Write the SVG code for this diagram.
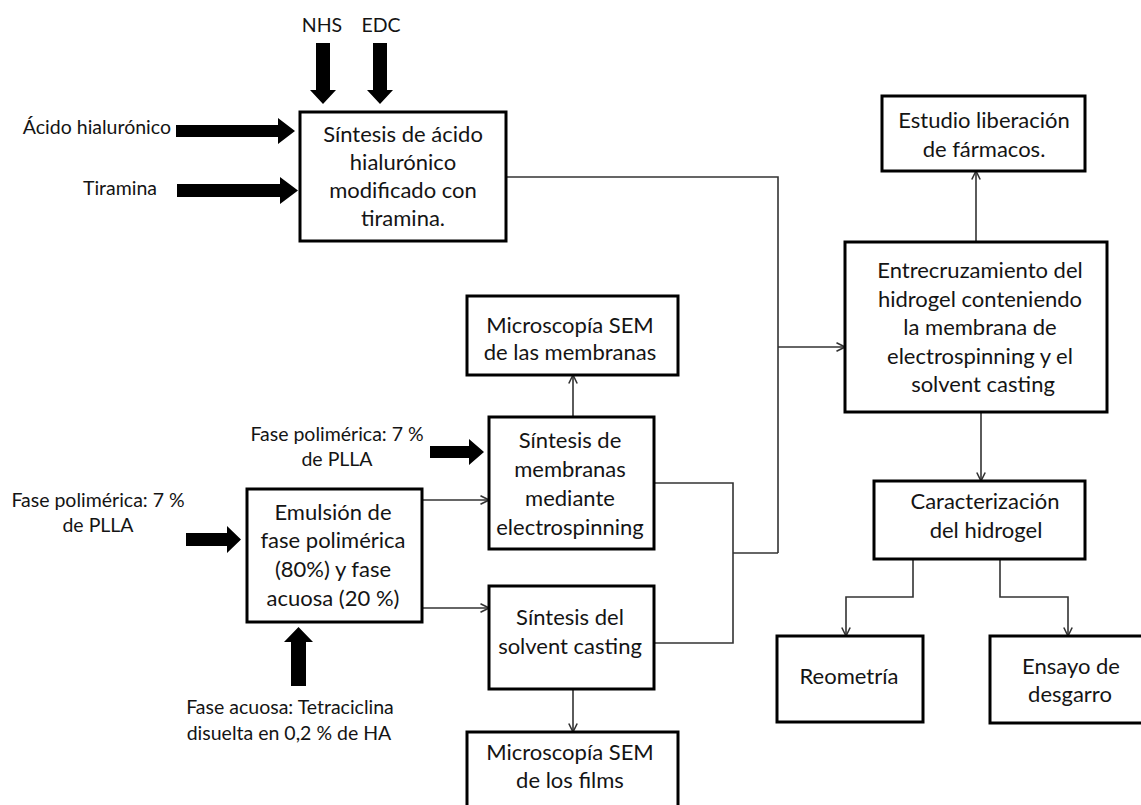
<svg xmlns="http://www.w3.org/2000/svg" width="1141" height="805" viewBox="0 0 1141 805">
  <style>
    .box { fill: #ffffff; stroke: #000000; stroke-width: 3; }
    .t { font-family: Lato, "Liberation Sans", sans-serif; font-size: 22px; fill: #141414; text-anchor: middle; }
    .s { font-family: Lato, "Liberation Sans", sans-serif; font-size: 19.5px; fill: #141414; }
    .link { fill: none; stroke: #333333; stroke-width: 1.6; }
    .block { fill: #000000; }
  </style>
  <defs>
    <marker id="open" viewBox="0 0 10 10" refX="9.5" refY="5" markerWidth="10" markerHeight="10" markerUnits="userSpaceOnUse" orient="auto">
      <path d="M1,0.8 L9.5,5 L1,9.2" fill="none" stroke="#333333" stroke-width="1.6"/>
    </marker>
  </defs>

  <!-- heavy input arrows and their labels -->
  <g id="inputs">
    <text class="s" x="322" y="32" text-anchor="middle">NHS</text>
    <text class="s" x="381" y="32" text-anchor="middle">EDC</text>
    <polygon class="block" points="316,43 330,43 330,90 336,90 323,104 310,90 316,90"/>
    <polygon class="block" points="373,43 387,43 387,90 393,90 380,104 367,90 373,90"/>

    <text class="s" x="171" y="134" text-anchor="end">Ácido hialurónico</text>
    <polygon class="block" points="176,125 278,125 278,118 295,131 278,144 278,137 176,137"/>

    <text class="s" x="157" y="195" text-anchor="end">Tiramina</text>
    <polygon class="block" points="177,184 280,184 280,177 298,190.5 280,204 280,197 177,197"/>

    <text class="s" x="337" y="441" text-anchor="middle">Fase polimérica: 7 %</text>
    <text class="s" x="337" y="466" text-anchor="middle">de PLLA</text>
    <polygon class="block" points="430,446 469,446 469,439 484,452 469,465 469,458 430,458"/>

    <text class="s" x="98" y="507" text-anchor="middle">Fase polimérica: 7 %</text>
    <text class="s" x="98" y="532" text-anchor="middle">de PLLA</text>
    <polygon class="block" points="186,533 227,533 227,526 241,539.5 227,553 227,546 186,546"/>

    <polygon class="block" points="291,686 306,686 306,642 313,642 298.5,627 284,642 291,642"/>
    <text class="s" x="290" y="714" text-anchor="middle">Fase acuosa: Tetraciclina</text>
    <text class="s" x="289" y="740" text-anchor="middle">disuelta en 0,2 % de HA</text>
  </g>

  <!-- connectors -->
  <g id="connectors">
    <polyline class="link" points="506,177 778,177 778,553"/>
    <line class="link" x1="778" y1="347" x2="845" y2="347" marker-end="url(#open)"/>
    <polyline class="link" points="654,483 733,483 733,643 654,643"/>
    <line class="link" x1="733" y1="553" x2="778" y2="553"/>
    <line class="link" x1="976" y1="242" x2="976" y2="171" marker-end="url(#open)"/>
    <line class="link" x1="981" y1="412" x2="981" y2="481" marker-end="url(#open)"/>
    <polyline class="link" points="913,559 913,597 846,597 846,636" marker-end="url(#open)"/>
    <polyline class="link" points="1000,559 1000,597 1068,597 1068,636" marker-end="url(#open)"/>
    <line class="link" x1="573" y1="417" x2="573" y2="375" marker-end="url(#open)"/>
    <line class="link" x1="573" y1="689" x2="573" y2="732" marker-end="url(#open)"/>
    <line class="link" x1="422" y1="500" x2="489" y2="500" marker-end="url(#open)"/>
    <line class="link" x1="422" y1="608" x2="489" y2="608" marker-end="url(#open)"/>
  </g>

  <g id="sintesis-ha">
    <rect class="box" x="300" y="112" width="206" height="129"/>
    <text class="t" x="403" y="142">Síntesis de ácido</text>
    <text class="t" x="403" y="170">hialurónico</text>
    <text class="t" x="403" y="198">modificado con</text>
    <text class="t" x="403" y="226">tiramina.</text>
  </g>

  <g id="estudio-liberacion">
    <rect class="box" x="882" y="96" width="203" height="75"/>
    <text class="t" x="984" y="128">Estudio liberación</text>
    <text class="t" x="984" y="157">de fármacos.</text>
  </g>

  <g id="entrecruzamiento">
    <rect class="box" x="845" y="242" width="262" height="170"/>
    <text class="t" x="980" y="278">Entrecruzamiento del</text>
    <text class="t" x="980" y="307">hidrogel conteniendo</text>
    <text class="t" x="980" y="335">la membrana de</text>
    <text class="t" x="980" y="364">electrospinning y el</text>
    <text class="t" x="983" y="392">solvent casting</text>
  </g>

  <g id="caracterizacion">
    <rect class="box" x="874" y="481" width="211" height="78"/>
    <text class="t" x="985" y="509">Caracterización</text>
    <text class="t" x="986" y="538">del hidrogel</text>
  </g>

  <g id="reometria">
    <rect class="box" x="777" y="636" width="146" height="86"/>
    <text class="t" x="849" y="684">Reometría</text>
  </g>

  <g id="ensayo-desgarro">
    <rect class="box" x="990" y="636" width="162" height="87"/>
    <text class="t" x="1071" y="674">Ensayo de</text>
    <text class="t" x="1070" y="702">desgarro</text>
  </g>

  <g id="sem-membranas">
    <rect class="box" x="467" y="296" width="211" height="79"/>
    <text class="t" x="570" y="333">Microscopía SEM</text>
    <text class="t" x="570" y="360">de las membranas</text>
  </g>

  <g id="electrospinning">
    <rect class="box" x="489" y="417" width="165" height="132"/>
    <text class="t" x="570" y="448">Síntesis de</text>
    <text class="t" x="570" y="477">membranas</text>
    <text class="t" x="570" y="506">mediante</text>
    <text class="t" x="570" y="535">electrospinning</text>
  </g>

  <g id="solvent-casting">
    <rect class="box" x="489" y="586" width="165" height="103"/>
    <text class="t" x="570" y="625">Síntesis del</text>
    <text class="t" x="570" y="654">solvent casting</text>
  </g>

  <g id="sem-films">
    <rect class="box" x="467" y="732" width="211" height="80"/>
    <text class="t" x="570" y="760">Microscopía SEM</text>
    <text class="t" x="570" y="788">de los films</text>
  </g>

  <g id="emulsion">
    <rect class="box" x="247" y="489" width="175" height="133"/>
    <text class="t" x="333" y="520">Emulsión de</text>
    <text class="t" x="333" y="548">fase polimérica</text>
    <text class="t" x="333" y="577">(80%) y fase</text>
    <text class="t" x="333" y="606">acuosa (20 %)</text>
  </g>
</svg>
